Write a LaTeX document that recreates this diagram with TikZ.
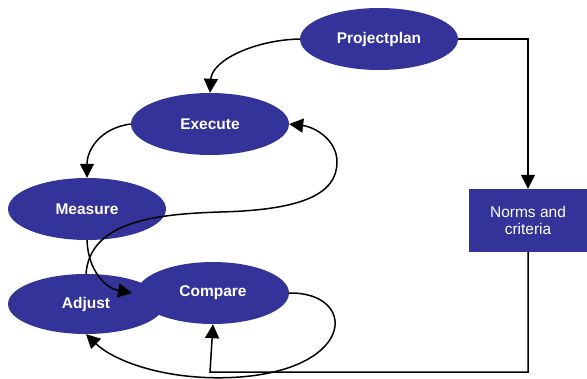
\documentclass[tikz,border=0pt]{standalone}
\usepackage{fontspec}
\setmainfont{Liberation Sans}
\usetikzlibrary{shapes.geometric,arrows.meta}
\definecolor{planblue}{HTML}{333399}
\tikzset{
  phase/.style={ellipse,fill=planblue,text=white,inner sep=0pt,
    minimum width=158pt,minimum height=62pt,
    font=\fontsize{15.5}{17}\selectfont\bfseries},
  normbox/.style={rectangle,fill=planblue,text=white,inner sep=0pt,
    minimum width=119pt,minimum height=63pt,align=center,
    font=\fontsize{15.5}{17}\selectfont},
  flow/.style={line width=1.5pt,-{Triangle[length=14pt,width=14pt]}}
}
\begin{document}
\begin{tikzpicture}[x=1pt,y=-1pt]
\useasboundingbox (0,0) rectangle (587,378);

\node[phase] (pp) at (379,39) {Projectplan};
\node[phase] (ex) at (210,124) {Execute};
\node[phase] (me) at (87,209) {Measure};
\node[phase,minimum width=156pt,minimum height=60pt] (ad) at (86,304) {\raisebox{-4pt}{Adjust}};
\node[phase,minimum width=152pt] (co) at (213,293) {Compare};
\node[normbox] (nc) at (528,220.5) {Norms and\\criteria};

\coordinate (adin) at (132,293);

\draw [flow] (pp.west) .. controls (255,40) and (212,60) .. (ex.north);
\draw [flow] (pp.east) -| (nc.north);
\draw [flow] (nc.south) |- (210,372) -- (co.south);
\draw [flow] (ex.west) .. controls (100,128) and (87,150) .. (me.north);
\draw [flow] (me.south) .. controls (88,270) and (105,288) .. (adin);
\draw [flow] (co.east) .. controls (357,292) and (357,368) .. (240,377)
  .. controls (170,382) and (115,362) .. (ad.south);
\draw [flow] (ad.north) .. controls (90,220) and (160,214) .. (220,212)
  .. controls (300,210) and (337,195) .. (337,162)
  .. controls (337,140) and (315,127) .. (ex.east);
\end{tikzpicture}
\end{document}
